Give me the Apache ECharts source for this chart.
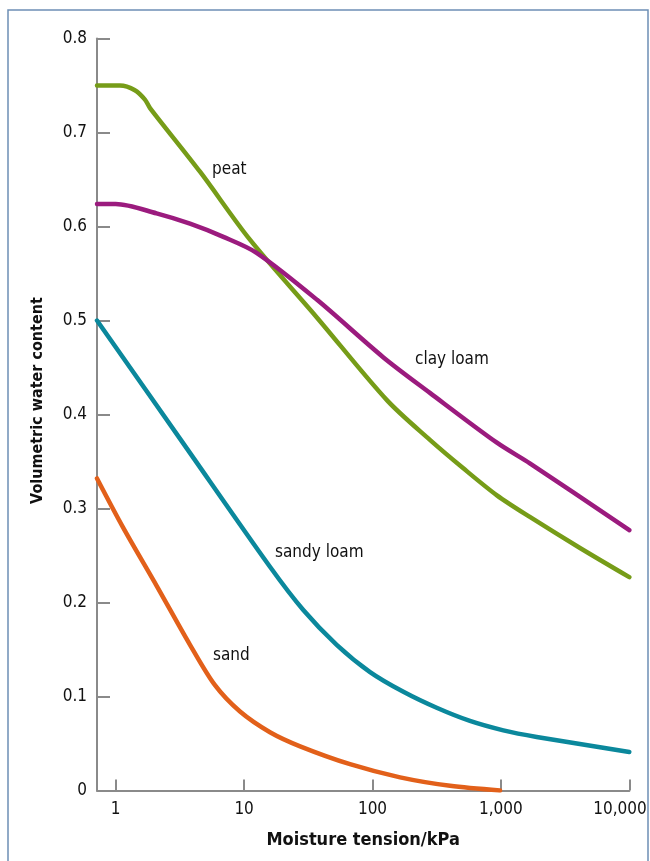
<!DOCTYPE html>
<html>
<head>
<meta charset="utf-8">
<script src="https://cdn.jsdelivr.net/npm/echarts@6/dist/echarts.min.js"></script>
<style>
html,body{margin:0;padding:0;background:#fff;overflow:hidden;}
#chart{width:650px;height:861px;}
</style>
</head>
<body>
<div id="chart"></div>
<script>
// Moisture tension (kPa) and volumetric water content
const peatX = [0.715, 1.08, 1.41, 1.69, 1.85, 4.55, 11.1, 37, 130, 280, 507, 931, 1680, 4130, 10000];
const peatY = [0.750, 0.750, 0.745, 0.735, 0.726, 0.658, 0.586, 0.503, 0.415, 0.373, 0.343, 0.314, 0.291, 0.258, 0.227];

const clayX = [0.715, 1.0, 2.08, 3.79, 6.89, 12.5, 37, 121, 280, 931, 1680, 10000];
const clayY = [0.624, 0.624, 0.614, 0.603, 0.589, 0.572, 0.522, 0.461, 0.423, 0.370, 0.348, 0.277];

const sandyX = [0.715, 3.37, 15.9, 28.9, 52.6, 95.7, 174, 316, 574, 1045, 1900, 10000];
const sandyY = [0.500, 0.369, 0.238, 0.192, 0.155, 0.126, 0.105, 0.088, 0.074, 0.064, 0.057, 0.041];

const sandX = [0.715, 1.14, 2.10, 3.79, 5.93, 9.29, 15.9, 27.3, 66.8, 164, 402, 985];
const sandY = [0.332, 0.280, 0.217, 0.155, 0.112, 0.084, 0.062, 0.047, 0.028, 0.014, 0.005, 0.000];

const seriesNames = ['peat', 'clay loam', 'sandy loam', 'sand'];
const yTicks = [0, 0.1, 0.2, 0.3, 0.4, 0.5, 0.6, 0.7, 0.8];
const xTickValues = [1, 10, 100, 1000, 10000];

const colors = ['#769c18', '#9b1b7e', '#0b889c', '#e2601a'];
const FONT = "'Liberation Sans Narrow', 'DejaVu Sans Condensed', sans-serif";
const AXIS_GRAY = '#8a8a8a';
const TEXT = '#111111';

function pairs(xs, ys) { return xs.map((x, i) => [x, ys[i]]); }

const chart = echarts.init(document.getElementById('chart'), null, {renderer: 'canvas'});

const lineSeries = [[peatX, peatY], [clayX, clayY], [sandyX, sandyY], [sandX, sandY]].map((d, i) => ({
  name: seriesNames[i],
  type: 'line',
  data: pairs(d[0], d[1]),
  smooth: 0.3,
  showSymbol: false,
  symbol: 'none',
  lineStyle: {color: colors[i], width: 4.5, cap: 'round', join: 'round'},
  z: 3
}));

chart.setOption({
  animation: false,
  backgroundColor: '#ffffff',
  grid: {left: 97, right: 20.7, top: 38.5, bottom: 70.5, containLabel: false, outerBoundsMode: 'none'},
  xAxis: {
    type: 'log',
    logBase: 10,
    min: 0.715,
    max: 10000,
    name: 'Moisture tension/kPa',
    nameLocation: 'middle',
    nameGap: 41,
    nameTextStyle: {fontFamily: FONT, fontWeight: 'bold', fontSize: 18, color: TEXT},
    axisLine: {show: true, lineStyle: {color: AXIS_GRAY, width: 2}},
    axisTick: {show: true, inside: true, length: 11, lineStyle: {color: AXIS_GRAY, width: 2}},
    axisLabel: {
      showMinLabel: false,
      hideOverlap: false,
      margin: 11,
      fontFamily: FONT, fontSize: 17, color: TEXT,
      formatter: function (v) {
        const lv = Math.log10(v);
        if (Math.abs(lv - Math.round(lv)) > 1e-6) return '';
        const n = Math.round(v);
        if (xTickValues.indexOf(n) < 0) return '';
        const s = n.toLocaleString('en-US');
        return n === xTickValues[xTickValues.length - 1] ? '{last|' + s + '}' : s;
      },
      rich: {
        last: {width: 72, align: 'left', fontFamily: FONT, fontSize: 17, color: TEXT}
      }
    },
    splitLine: {show: false},
    minorTick: {show: false}
  },
  yAxis: {
    type: 'value',
    min: yTicks[0],
    max: yTicks[yTicks.length - 1],
    interval: 0.1,
    name: 'Volumetric water content',
    nameLocation: 'middle',
    nameGap: 51,
    nameTextStyle: {fontFamily: FONT, fontWeight: 'bold', fontSize: 16, color: TEXT, padding: [0, 0, 0, 28]},
    axisLine: {show: true, lineStyle: {color: AXIS_GRAY, width: 2}},
    axisTick: {show: true, inside: true, length: 13, lineStyle: {color: AXIS_GRAY, width: 2}},
    axisLabel: {margin: 10, fontFamily: FONT, fontSize: 17, color: TEXT,
      formatter: function (v) { return String(Math.round(v * 10) / 10); }},
    splitLine: {show: false}
  },
  series: lineSeries,
  graphic: [
    {type: 'rect', shape: {x: 8, y: 10, width: 640, height: 860}, style: {fill: 'none', stroke: '#6d8fb5', lineWidth: 1.5}, z: 0, silent: true},
    {type: 'text', x: 212, y: 170, style: {text: seriesNames[0], fontFamily: FONT, fontSize: 17, fill: TEXT, verticalAlign: 'middle'}},
    {type: 'text', x: 415, y: 360, style: {text: seriesNames[1], fontFamily: FONT, fontSize: 17, fill: TEXT, verticalAlign: 'middle'}},
    {type: 'text', x: 275, y: 553, style: {text: seriesNames[2], fontFamily: FONT, fontSize: 17, fill: TEXT, verticalAlign: 'middle'}},
    {type: 'text', x: 213, y: 656, style: {text: seriesNames[3], fontFamily: FONT, fontSize: 17, fill: TEXT, verticalAlign: 'middle'}}
  ]
});
</script>
</body>
</html>
